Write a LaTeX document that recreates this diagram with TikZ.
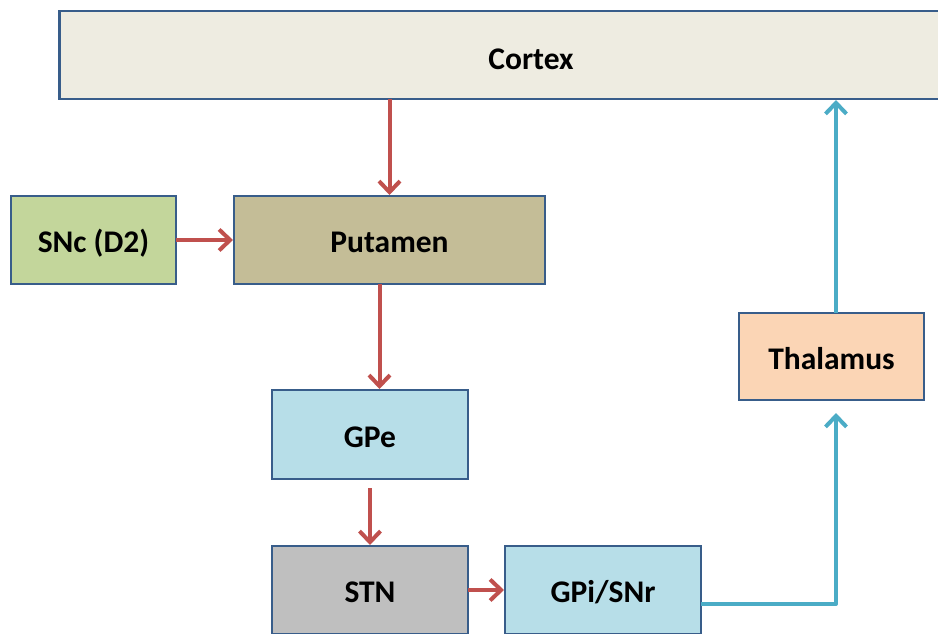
\documentclass[tikz,border=0pt]{standalone}
\usepackage{fontspec}
\setmainfont{Carlito}
\usetikzlibrary{arrows.meta}
\definecolor{bordc}{HTML}{385D8A}
\definecolor{redc}{HTML}{C0504D}
\definecolor{bluec}{HTML}{4BACC6}
\definecolor{cortexc}{HTML}{EEECE1}
\definecolor{putc}{HTML}{C4BD97}
\definecolor{sncc}{HTML}{C3D69B}
\definecolor{gpc}{HTML}{B7DEE8}
\definecolor{stnc}{HTML}{BFBFBF}
\definecolor{thalc}{HTML}{FBD5B5}
\tikzset{
  box/.style={draw=bordc, line width=2.5pt, inner sep=0pt, outer sep=0pt,
    text height=30pt, text depth=5pt,
    font=\fontsize{31.5}{36}\selectfont\bfseries},
  redarr/.style={draw=redc, line width=4pt, -{Straight Barb[length=11pt,width=21pt,line width=4pt]}},
  bluearr/.style={draw=bluec, line width=4pt, line join=round, -{Straight Barb[length=11pt,width=21pt,line width=4pt]}},
}
\begin{document}
\begin{tikzpicture}[x=1pt,y=-1pt]
\useasboundingbox (0,0) rectangle (938,634);
\fill[white] (0,0) rectangle (938,634);
\node[box, fill=cortexc, minimum width=885pt, minimum height=88pt, text height=33pt, text depth=3.5pt] (cortex) at (502,55) {\hspace*{58pt}Cortex};
\node[box, fill=sncc, minimum width=165pt, minimum height=88pt] (snc) at (93.5,240) {SNc (D2)};
\node[box, fill=putc, minimum width=311pt, minimum height=88pt] (putamen) at (389.5,240) {Putamen};
\node[box, fill=gpc, minimum width=196pt, minimum height=89pt] (gpe) at (370,434.5) {GPe};
\node[box, fill=stnc, minimum width=196pt, minimum height=88pt] (stn) at (370,590) {STN};
\node[box, fill=gpc, minimum width=196pt, minimum height=88pt] (gpi) at (603,590) {GPi/SNr};
\node[box, fill=thalc, minimum width=185pt, minimum height=87pt] (thal) at (831.5,356.5) {Thalamus};

\draw[redarr] (cortex.south -| putamen.north) -- ([yshift=1pt]putamen.north);
\draw[redarr] (snc.east) -- ([xshift=-1pt]putamen.west);
\draw[redarr] ([xshift=-10pt]putamen.south) -- ([xshift=-10pt,yshift=1pt]putamen.south |- gpe.north);
\draw[redarr] ([yshift=-9pt]gpe.south) -- ([yshift=1pt]stn.north);
\draw[redarr] (stn.east) -- ([xshift=-1pt]gpi.west);
\draw[bluearr] ([yshift=-14pt]gpi.east) -| ([xshift=4.5pt,yshift=-13pt]thal.south);
\draw[bluearr] ([xshift=4.5pt]thal.north) -- ([xshift=4.5pt,yshift=-1pt]thal.north |- cortex.south);
\end{tikzpicture}
\end{document}
